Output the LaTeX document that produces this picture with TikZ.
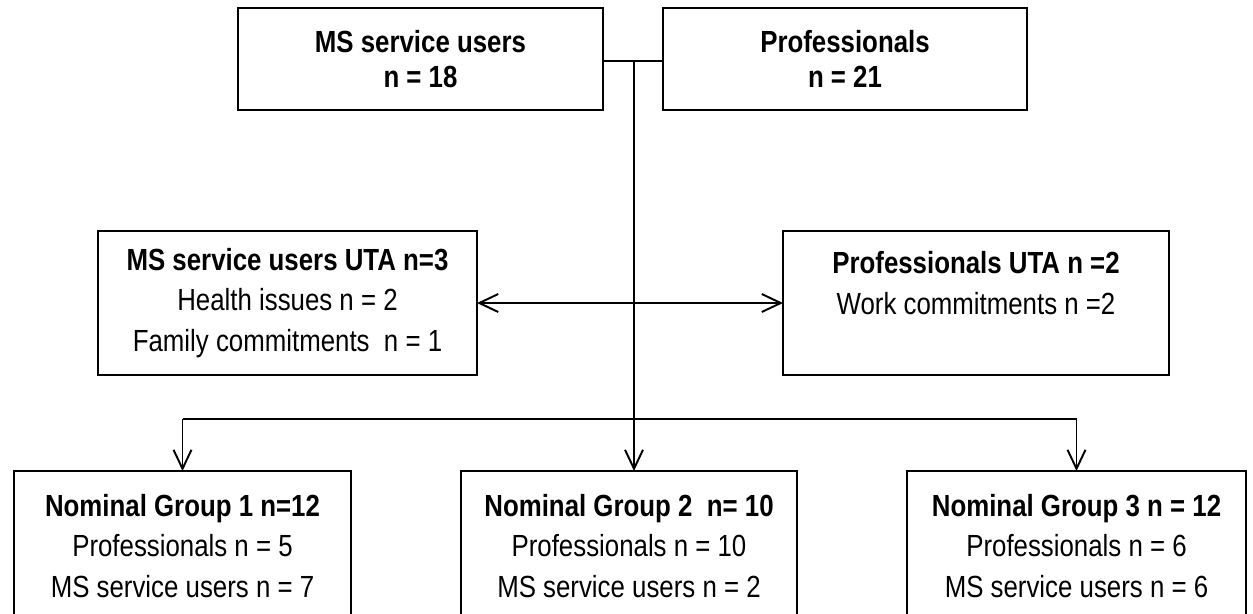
\documentclass[tikz,border=0pt]{standalone}
\usepackage{fontspec}
\setmainfont{Liberation Sans}[FakeStretch=0.845]
\usepackage{tikz}
\usetikzlibrary{arrows.meta}

\begin{document}
\begin{tikzpicture}[x=0.02cm,y=0.02cm,
  every node/.style={font=\fontsize{17.4}{23.2}\selectfont},
  box/.style={draw,line width=1.1pt,align=center,inner sep=0pt,outer sep=0pt},
  arr/.style={line width=1.1pt,-{Straight Barb[length=0.38cm,width=0.36cm,line width=1.1pt]}},
  darr/.style={line width=1.1pt,{Straight Barb[length=0.38cm,width=0.36cm,line width=1.1pt]}-{Straight Barb[length=0.38cm,width=0.36cm,line width=1.1pt]}}]
\useasboundingbox (0,0) rectangle (1253,-613);
\clip (0,0) rectangle (1253,-613);
% participants
\node[box,minimum width=365*0.02cm,minimum height=102*0.02cm] (ms) at (420.5,-59)
  {\textbf{MS service users}\\[-0.1cm]\textbf{n = 18}};
\node[box,minimum width=364*0.02cm,minimum height=102*0.02cm] (pro) at (845,-59)
  {\textbf{Professionals}\\[-0.1cm]\textbf{n = 21}};
% unable to attend
\node[box,minimum width=379*0.02cm,minimum height=144*0.02cm] (utams) at (287.5,-303)
  {\textbf{MS service users UTA n=3}\\Health issues n = 2\\Family commitments\ \ n = 1};
\node[box,minimum width=386*0.02cm,minimum height=144*0.02cm] (utapro) at (976,-303)
  {\textbf{Professionals UTA n =2}\\Work commitments n =2\\ ~};
% nominal groups
\node[box,minimum width=337*0.02cm,minimum height=150*0.02cm] (ng1) at (182.5,-546)
  {\textbf{Nominal Group 1 n=12}\\Professionals n = 5\\MS service users n = 7};
\node[box,minimum width=336*0.02cm,minimum height=150*0.02cm] (ng2) at (629,-546)
  {\textbf{Nominal Group 2\ \ n= 10}\\Professionals n = 10\\MS service users n = 2};
\node[box,minimum width=339*0.02cm,minimum height=150*0.02cm] (ng3) at (1076.5,-546)
  {\textbf{Nominal Group 3 n = 12}\\Professionals n = 6\\MS service users n = 6};
% connectors
\coordinate (hub) at (634,-61);
\coordinate (split) at (634,-419);
\draw[line width=1.1pt] (ms.east |- hub) -- (pro.west |- hub);
\draw[line width=1.1pt] (hub) -- (split);
\draw[darr] (utams.east) -- (utapro.west);
\draw[line width=1.1pt] (split -| ng1.north) -- (split -| ng3.north);
\draw[arr] (split -| ng1.north) -- (ng1.north);
\draw[arr] (split) -- (split |- ng2.north);
\draw[arr] (split -| ng3.north) -- (ng3.north);
\end{tikzpicture}
\end{document}
